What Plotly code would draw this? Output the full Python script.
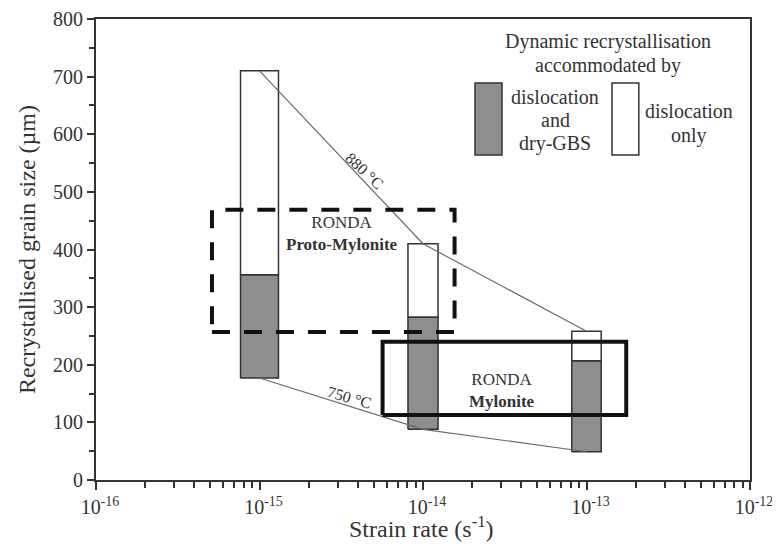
import numpy as np
import plotly.graph_objects as go

# ── DATA ──────────────────────────────────────────────────────────────────────
strain_rate = [1e-15, 1e-14, 1e-13]          # s^-1
gbs_bottom  = [177, 88, 49]                  # dislocation + dry-GBS (grey), µm
gbs_top     = [356, 283, 207]
disl_top    = [710, 410, 258]                # dislocation only (white) top, µm

t880 = [710, 410, 258]                       # 880 °C curve (tops)
t750 = [177, 88, 49]                         # 750 °C curve (bottoms)

proto_x = [5.12e-16, 1.56e-14]               # RONDA proto-mylonite field
proto_y = [257, 469]
mylo_x  = [5.66e-15, 1.75e-13]               # RONDA mylonite field
mylo_y  = [113, 240]

xtick_vals = [1e-16, 1e-15, 1e-14, 1e-13, 1e-12]
xtick_text = ["10<sup>-16</sup>", "10<sup>-15</sup>", "10<sup>-14</sup>",
              "10<sup>-13</sup>", "10<sup>-12</sup>"]

# ── STYLE ─────────────────────────────────────────────────────────────────────
FONT  = "Liberation Serif"
INK   = "#333333"
GREY  = "#8e8e8e"
HALFW = [0.116, 0.092, 0.090]                # bar half-width in decades


def rect(x0, x1, y0, y1):
    return [x0, x1, x1, x0, x0], [y0, y0, y1, y1, y0]


fig = go.Figure()

# bars: grey part and white part
for i, sr in enumerate(strain_rate):
    xa, xb = sr * 10 ** -HALFW[i], sr * 10 ** HALFW[i]
    xs, ys = rect(xa, xb, gbs_bottom[i], gbs_top[i])
    fig.add_trace(go.Scatter(x=xs, y=ys, mode="lines", fill="toself",
                             fillcolor=GREY, line=dict(color=INK, width=1.5),
                             hoverinfo="skip"))
    xs, ys = rect(xa, xb, gbs_top[i], disl_top[i])
    fig.add_trace(go.Scatter(x=xs, y=ys, mode="lines", fill="toself",
                             fillcolor="white", line=dict(color=INK, width=1.5),
                             hoverinfo="skip"))

# isotherms
for ys in (t880, t750):
    fig.add_trace(go.Scatter(x=strain_rate, y=ys, mode="lines",
                             line=dict(color="#6a6a6a", width=1.2),
                             hoverinfo="skip"))

# RONDA fields
xs, ys = rect(proto_x[0], proto_x[1], proto_y[0], proto_y[1])
fig.add_trace(go.Scatter(x=xs, y=ys, mode="lines",
                         line=dict(color="#111111", width=4, dash="18px,14px"),
                         hoverinfo="skip"))
xs, ys = rect(mylo_x[0], mylo_x[1], mylo_y[0], mylo_y[1])
fig.add_trace(go.Scatter(x=xs, y=ys, mode="lines",
                         line=dict(color="#111111", width=4),
                         hoverinfo="skip"))


def note(x, y, text, size, ref="paper", angle=0):
    fig.add_annotation(x=x, y=y, xref="x" if ref == "data" else "paper",
                       yref="y" if ref == "data" else "paper", text=text,
                       showarrow=False, textangle=angle, xanchor="center",
                       yanchor="middle",
                       font=dict(family=FONT, size=size, color=INK))


note(np.log10(3.18e-15), 427, "RONDA<br><b>Proto-Mylonite</b>", 17, "data")
note(np.log10(3.06e-14), 156, "RONDA<br><b>Mylonite</b>", 17, "data")
note(-14.36, 537, "880 °C", 16, "data", 43)
note(-14.45, 144, "750 °C", 16, "data", 16)

# legend block (drawn in paper coordinates)
note(0.783, 0.952, "Dynamic recrystallisation", 20)
note(0.783, 0.900, "accommodated by", 20)
note(0.702, 0.831, "dislocation", 20)
note(0.702, 0.781, "and", 20)
note(0.702, 0.731, "dry-GBS", 20)
note(0.907, 0.800, "dislocation", 20)
note(0.907, 0.748, "only", 20)
fig.add_shape(type="rect", xref="paper", yref="paper", x0=0.5795, x1=0.6208,
              y0=0.705, y1=0.861, fillcolor=GREY, line=dict(color=INK, width=1.5))
fig.add_shape(type="rect", xref="paper", yref="paper", x0=0.789, x1=0.830,
              y0=0.705, y1=0.861, fillcolor="white", line=dict(color=INK, width=1.5))

# x-axis title, placed by hand a little closer to the tick labels
note(0.497, -0.102, "Strain rate (s<sup>-1</sup>)", 24)

fig.update_xaxes(type="log", range=[-16, -12], tickvals=xtick_vals,
                 ticktext=xtick_text, ticks="outside", ticklen=8, tickwidth=1.5,
                 tickcolor=INK, showline=True, linecolor=INK, linewidth=2,
                 mirror=True, showgrid=False, zeroline=False, ticklabelshift=4,
                 automargin=False,
                 minor=dict(dtick="D1", ticks="outside", ticklen=6,
                            tickcolor=INK, showgrid=False),
                 tickfont=dict(family=FONT, size=20, color=INK))
fig.update_yaxes(range=[0, 800], dtick=100, ticks="outside", ticklen=7,
                 tickwidth=1.5, tickcolor=INK, showline=True, linecolor=INK,
                 linewidth=2, mirror=True, showgrid=False, zeroline=False,
                 automargin=False,
                 minor=dict(dtick=50, ticks="outside", ticklen=5,
                            tickcolor=INK, showgrid=False),
                 tickfont=dict(family=FONT, size=20, color=INK),
                 title=dict(text="Recrystallised grain size (µm)", standoff=11,
                            font=dict(family=FONT, size=24, color=INK)))

# the page body keeps an 8px margin, so the figure is drawn 8px smaller
fig.update_layout(width=772, height=542, showlegend=False,
                  plot_bgcolor="white", paper_bgcolor="white",
                  margin=dict(l=88, r=30, t=11, b=70, autoexpand=False))

fig.write_html("out.html")
